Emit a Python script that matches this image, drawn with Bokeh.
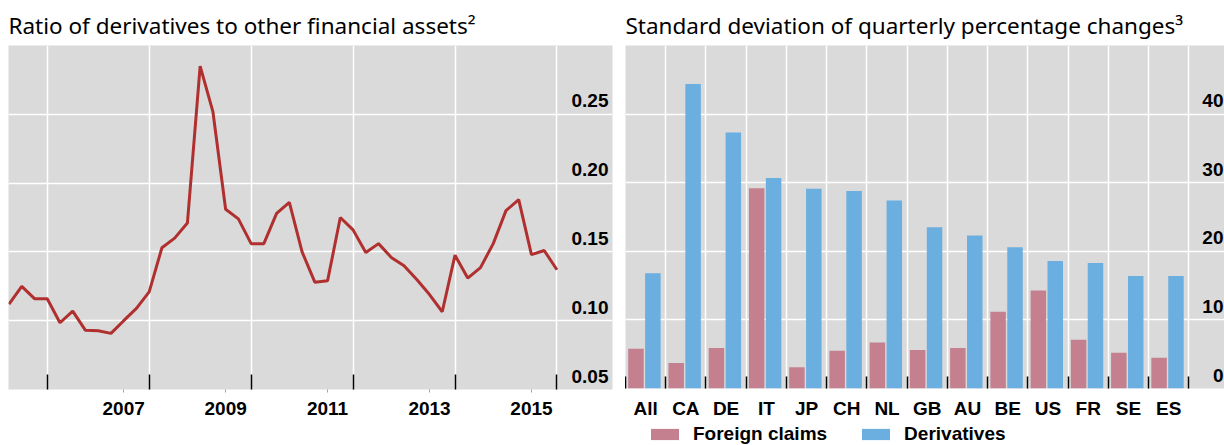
import numpy as np
import pandas as pd
from bokeh.plotting import figure
from bokeh.models import (FixedTicker, Range1d, ColumnDataSource, Legend, LegendItem)
from bokeh.core.properties import value
from bokeh.layouts import row, column
from bokeh.embed import file_html
from bokeh.resources import INLINE

# ---------------- data ----------------
# Left panel: quarterly ratio of derivatives to other financial assets
quarters = pd.period_range("2005Q2", "2016Q1", freq="Q")
ratio = [0.112, 0.125, 0.116, 0.116, 0.0985, 0.107, 0.093, 0.0927, 0.0908, 0.100,
         0.109, 0.121, 0.153, 0.160, 0.171, 0.285, 0.252, 0.181, 0.174, 0.156,
         0.156, 0.178, 0.186, 0.150, 0.128, 0.129, 0.175, 0.166, 0.1495, 0.156,
         0.146, 0.140, 0.130, 0.119, 0.1065, 0.1476, 0.131, 0.1386, 0.156, 0.180,
         0.188, 0.148, 0.151, 0.137]
year_labels = ["2007", "2009", "2011", "2013", "2015"]
year_grid = [2006, 2008, 2010, 2012, 2014, 2016]
ratio_ticks = [0.05, 0.10, 0.15, 0.20, 0.25]
ratio_grid = [0.05, 0.10, 0.15, 0.20, 0.25, 0.30]

# Right panel: standard deviation of quarterly percentage changes
countries = ["All", "CA", "DE", "IT", "JP", "CH", "NL", "GB", "AU", "BE", "US", "FR", "SE", "ES"]
foreign_claims = [5.8, 3.7, 5.9, 29.2, 3.1, 5.5, 6.7, 5.6, 5.9, 11.2, 14.3, 7.1, 5.2, 4.5]
derivatives = [16.8, 44.4, 37.3, 30.7, 29.1, 28.8, 27.4, 23.5, 22.3, 20.6, 18.6, 18.3, 16.4, 16.4]
sd_ticks = [0, 10, 20, 30, 40]
sd_grid = [0, 10, 20, 30, 40, 50]
series_names = ["Foreign claims", "Derivatives"]

# ---------------- style ----------------
GRAY = "#dadada"
RED = "#b0302f"
PINK = "#c4808e"
BLUE = "#6baee0"
TICK_FONT = "Liberation Sans"
TITLE_FONT = "Noto Sans"
FS = "19px"


def base_fig(width, height, xr, yr, left_border, bottom_border):
    p = figure(width=width, height=height, x_range=xr, y_range=yr,
               output_backend="svg", toolbar_location=None, y_axis_location=None,
               min_border_left=left_border, min_border_top=45, min_border_bottom=bottom_border,
               background_fill_color=GRAY, border_fill_color="white",
               outline_line_color=None)
    p.title.text_font = TITLE_FONT
    p.title.text_font_size = "22.5px"
    p.title.text_font_style = "normal"
    p.title.text_color = "black"
    p.grid.grid_line_color = "white"
    p.grid.grid_line_width = 1.5
    ax = p.xaxis[0]
    ax.axis_line_color = None
    ax.major_tick_in = 0
    ax.major_label_standoff = 9
    ax.major_label_text_font = TICK_FONT
    ax.major_label_text_font_style = "bold"
    ax.major_label_text_font_size = FS
    ax.major_label_text_color = "black"
    ax.minor_tick_out = 0
    ax.minor_tick_line_color = "black"
    ax.minor_tick_line_width = 1.5
    return p


def value_labels(p, ticks, texts, x_pos, x_off):
    # y tick labels drawn inside the plot area, right-aligned, just above each gridline
    src = ColumnDataSource(dict(y=ticks, t=texts, x=[x_pos] * len(ticks)))
    p.text(x="x", y="y", text="t", source=src, x_offset=x_off, y_offset=-7,
           text_align="right", text_baseline="bottom",
           text_font=value(TICK_FONT), text_font_style="bold", text_font_size=FS,
           text_color="black")


# ---------------- left panel ----------------
xq = [q.year + (q.quarter - 1) / 4 for q in quarters]
x1 = Range1d(2005.24, 2017.09)
p1 = base_fig(625, 445, x1, Range1d(0.05, 0.30), 8, 56)
p1.min_border_right = 13
p1.title.text = "Ratio of derivatives to other financial assets\u00b2"
p1.line(xq, ratio, line_color=RED, line_width=3)
label_ticks = [int(y) + 0.5 for y in year_labels]
p1.xaxis.ticker = FixedTicker(ticks=label_ticks, minor_ticks=year_grid)
p1.xaxis.major_label_overrides = {t: s for t, s in zip(label_ticks, year_labels)}
p1.xaxis.major_tick_out = 3
p1.xaxis.major_tick_line_color = "#a0a0a0"
p1.xaxis.minor_tick_in = 15
p1.xgrid.ticker = FixedTicker(ticks=year_grid)
p1.ygrid.ticker = FixedTicker(ticks=ratio_grid)
value_labels(p1, ratio_ticks, ["%.2f" % v for v in ratio_ticks], x1.end, -4)

# ---------------- right panel ----------------
idx = np.arange(len(countries))
src = ColumnDataSource(dict(cat=countries, xf=idx + 0.26, xd=idx + 0.68,
                            fc=foreign_claims, dv=derivatives))
x2 = Range1d(0, 14.886)
p2 = base_fig(599, 421, x2, Range1d(0, 50), 0, 32)
p2.min_border_right = 0
p2.title.text = "Standard deviation of quarterly percentage changes\u00b3"
p2.vbar(x="xf", top="fc", width=0.385, source=src, fill_color=PINK, line_color=None)
p2.vbar(x="xd", top="dv", width=0.385, source=src, fill_color=BLUE, line_color=None)
centers = [float(c) for c in idx + 0.5]
bounds = [int(b) for b in idx] + [len(countries)]
p2.xaxis.ticker = FixedTicker(ticks=centers, minor_ticks=bounds)
p2.xaxis.major_label_overrides = {c: s for c, s in zip(centers, countries)}
p2.xaxis.major_tick_out = 0
p2.xaxis.minor_tick_in = 12
p2.xgrid.ticker = FixedTicker(ticks=bounds)
p2.ygrid.ticker = FixedTicker(ticks=sd_grid)
value_labels(p2, sd_ticks, ["%d" % v for v in sd_ticks], x2.end, -1)

# ---------------- legend strip under the right panel ----------------
# The legend proxies draw the same series, but the strip's y range lies far above
# every value, so only the legend swatches are visible there.
pl = figure(width=599, height=24, x_range=Range1d(0, 1), y_range=Range1d(1000, 1001),
            output_backend="svg", toolbar_location=None, x_axis_location=None,
            y_axis_location=None, min_border=0, outline_line_color=None,
            background_fill_color="white", border_fill_color="white")
pl.grid.visible = False
leg_fc = pl.vbar(x="xf", top="fc", width=0.385, source=src, fill_color=PINK, line_color=None)
leg_dv = pl.vbar(x="xd", top="dv", width=0.385, source=src, fill_color=BLUE, line_color=None)
legend = Legend(items=[LegendItem(label=n, renderers=[r])
                       for n, r in zip(series_names, [leg_fc, leg_dv])],
                orientation="horizontal", location=(22, 0),
                glyph_width=35, glyph_height=14, label_standoff=11, spacing=31,
                padding=0, margin=0, border_line_color=None, background_fill_alpha=0,
                label_text_font=TICK_FONT, label_text_font_style="bold",
                label_text_font_size=FS, label_text_color="black")
pl.add_layout(legend, "center")

layout = row(p1, column(p2, pl))
open("out.html", "w").write(file_html(layout, INLINE))
